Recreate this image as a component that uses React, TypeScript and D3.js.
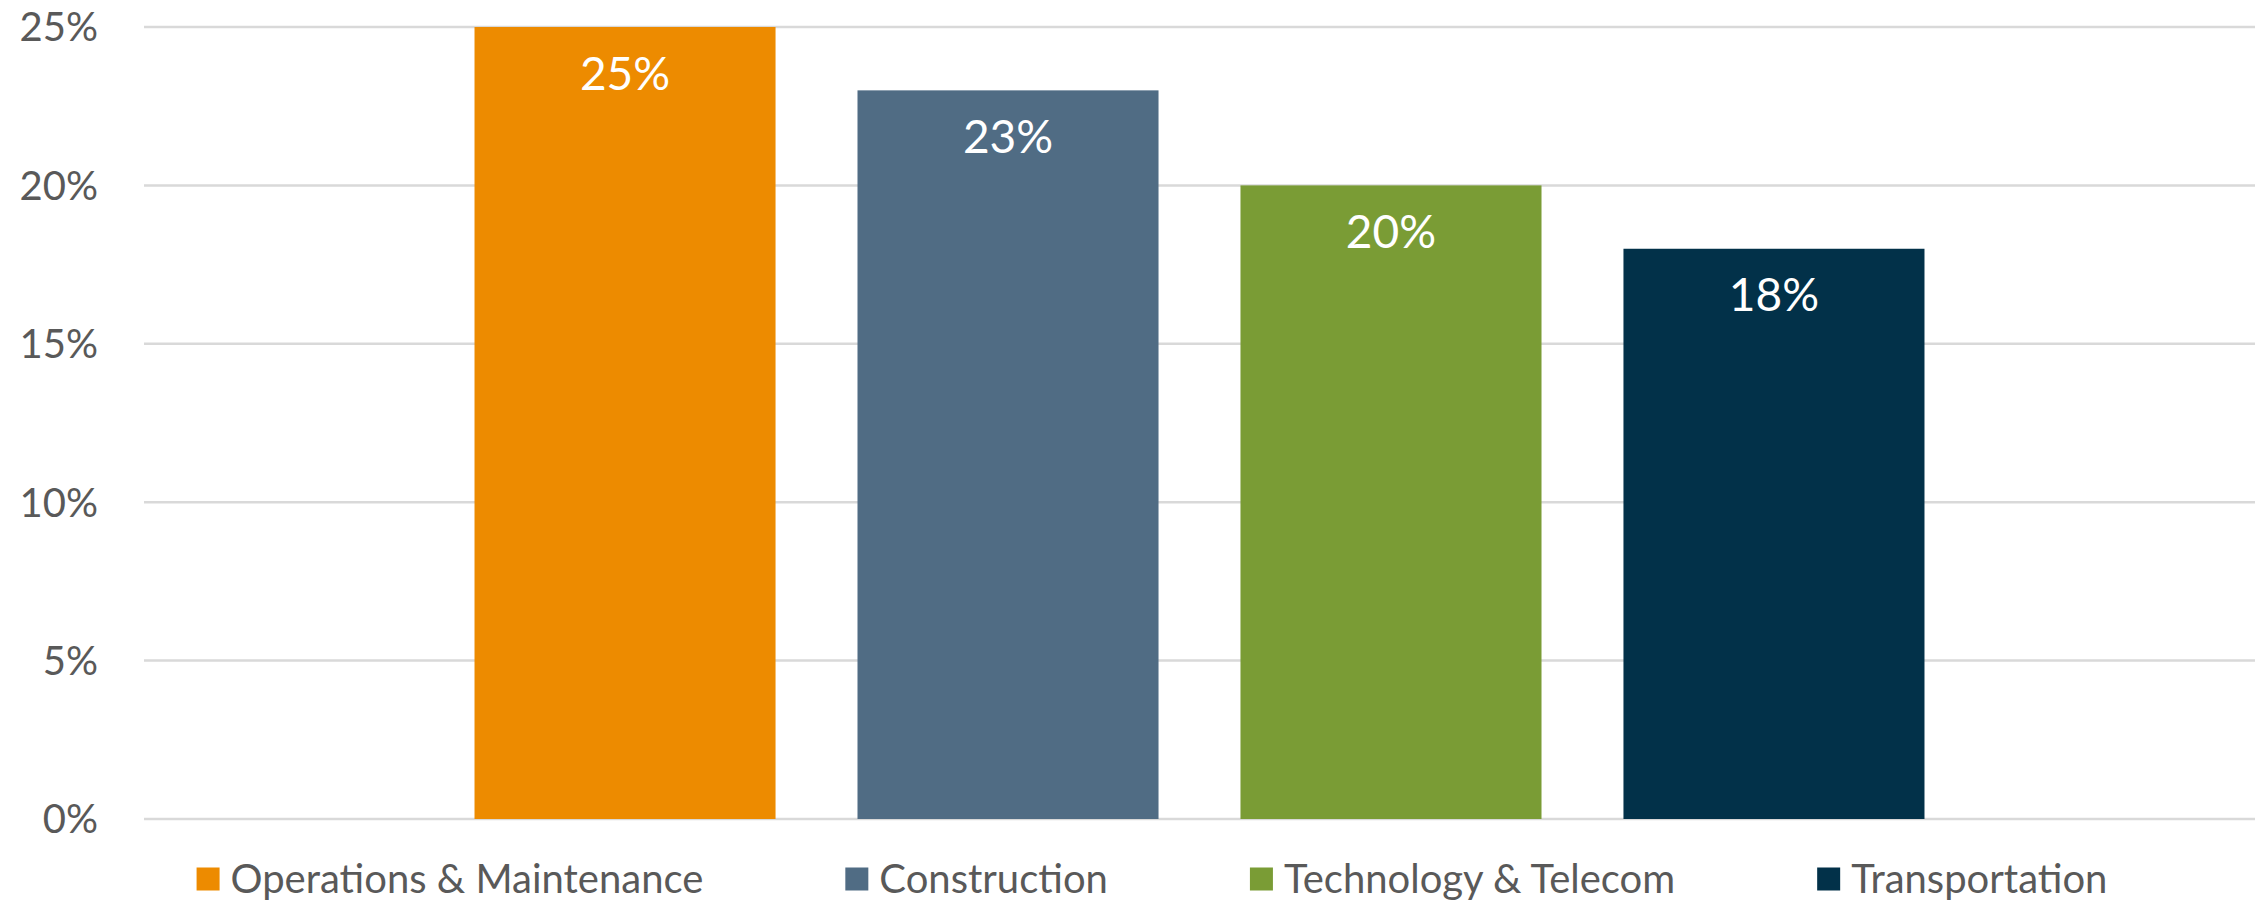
import { useEffect, useRef } from "react";
import * as d3 from "d3";

const series = [
  "Operations & Maintenance",
  "Construction",
  "Technology & Telecom",
  "Transportation",
];
const values = [25, 23, 20, 18];
const colors = ["#ED8B00", "#506C84", "#7A9C35", "#023149"];
const yTicks = [0, 5, 10, 15, 20, 25];

const W = 2260;
const H = 902;
const FONT = "Lato, 'Open Sans', sans-serif";

export default function App() {
  const ref = useRef<SVGSVGElement>(null);

  useEffect(() => {
    const svg = d3.select(ref.current);
    svg.selectAll("*").remove();

    const left = 144;
    const right = 2255;
    const top = 27;
    const bottom = 819;

    const y = d3.scaleLinear().domain([0, 25]).range([bottom, top]);

    // one category, four series side by side
    const x0 = d3.scaleBand().domain(["all"]).range([left, right]).paddingOuter(0.189).paddingInner(0);
    const x1 = d3
      .scaleBand()
      .domain(series)
      .range([0, x0.bandwidth()])
      .paddingInner(0.214)
      .paddingOuter(0.107);

    // gridlines
    svg
      .append("g")
      .selectAll("line")
      .data(yTicks)
      .join("line")
      .attr("x1", left)
      .attr("x2", right)
      .attr("y1", d => y(d))
      .attr("y2", d => y(d))
      .attr("stroke", "#D9D9D9")
      .attr("stroke-width", 2.5);

    // y labels
    svg
      .append("g")
      .selectAll("text")
      .data(yTicks)
      .join("text")
      .attr("x", 98)
      .attr("y", d => y(d))
      .attr("dy", "0.36em")
      .attr("text-anchor", "end")
      .attr("fill", "#595959")
      .attr("font-family", FONT)
      .attr("font-size", 40)
      .text(d => `${d}%`);

    const g = svg.append("g").attr("transform", `translate(${x0("all")},0)`);

    g.selectAll("rect")
      .data(values)
      .join("rect")
      .attr("x", (_, i) => x1(series[i])!)
      .attr("width", x1.bandwidth())
      .attr("y", d => y(d))
      .attr("height", d => bottom - y(d))
      .attr("fill", (_, i) => colors[i]);

    g.selectAll("text")
      .data(values)
      .join("text")
      .attr("x", (_, i) => x1(series[i])! + x1.bandwidth() / 2)
      .attr("y", d => y(d) + 46)
      .attr("dy", "0.36em")
      .attr("text-anchor", "middle")
      .attr("fill", "#FFFFFF")
      .attr("font-family", FONT)
      .attr("font-size", 46)
      .text(d => `${d}%`);

    // legend, measured then centered
    const legend = svg.append("g");
    const items = legend
      .selectAll("g")
      .data(series)
      .join("g");
    items
      .append("rect")
      .attr("width", 23)
      .attr("height", 23)
      .attr("y", -11.5)
      .attr("fill", (_, i) => colors[i]);
    items
      .append("text")
      .attr("x", 34)
      .attr("dy", "0.36em")
      .attr("fill", "#595959")
      .attr("font-family", FONT)
      .attr("font-size", 40)
      .text(d => d);

    const widths = items.nodes().map(n => (n as SVGGElement).getBBox().width);
    const gap = 142;
    const total = d3.sum(widths) + gap * (widths.length - 1);
    let cx = 1152 - total / 2;
    items.attr("transform", (_, i) => {
      const t = `translate(${cx},879)`;
      cx += widths[i] + gap;
      return t;
    });
  }, []);

  return (
    <svg
      ref={ref}
      width={W}
      height={H}
      style={{ position: "absolute", left: 0, top: 0, background: "#fff" }}
    />
  );
}
